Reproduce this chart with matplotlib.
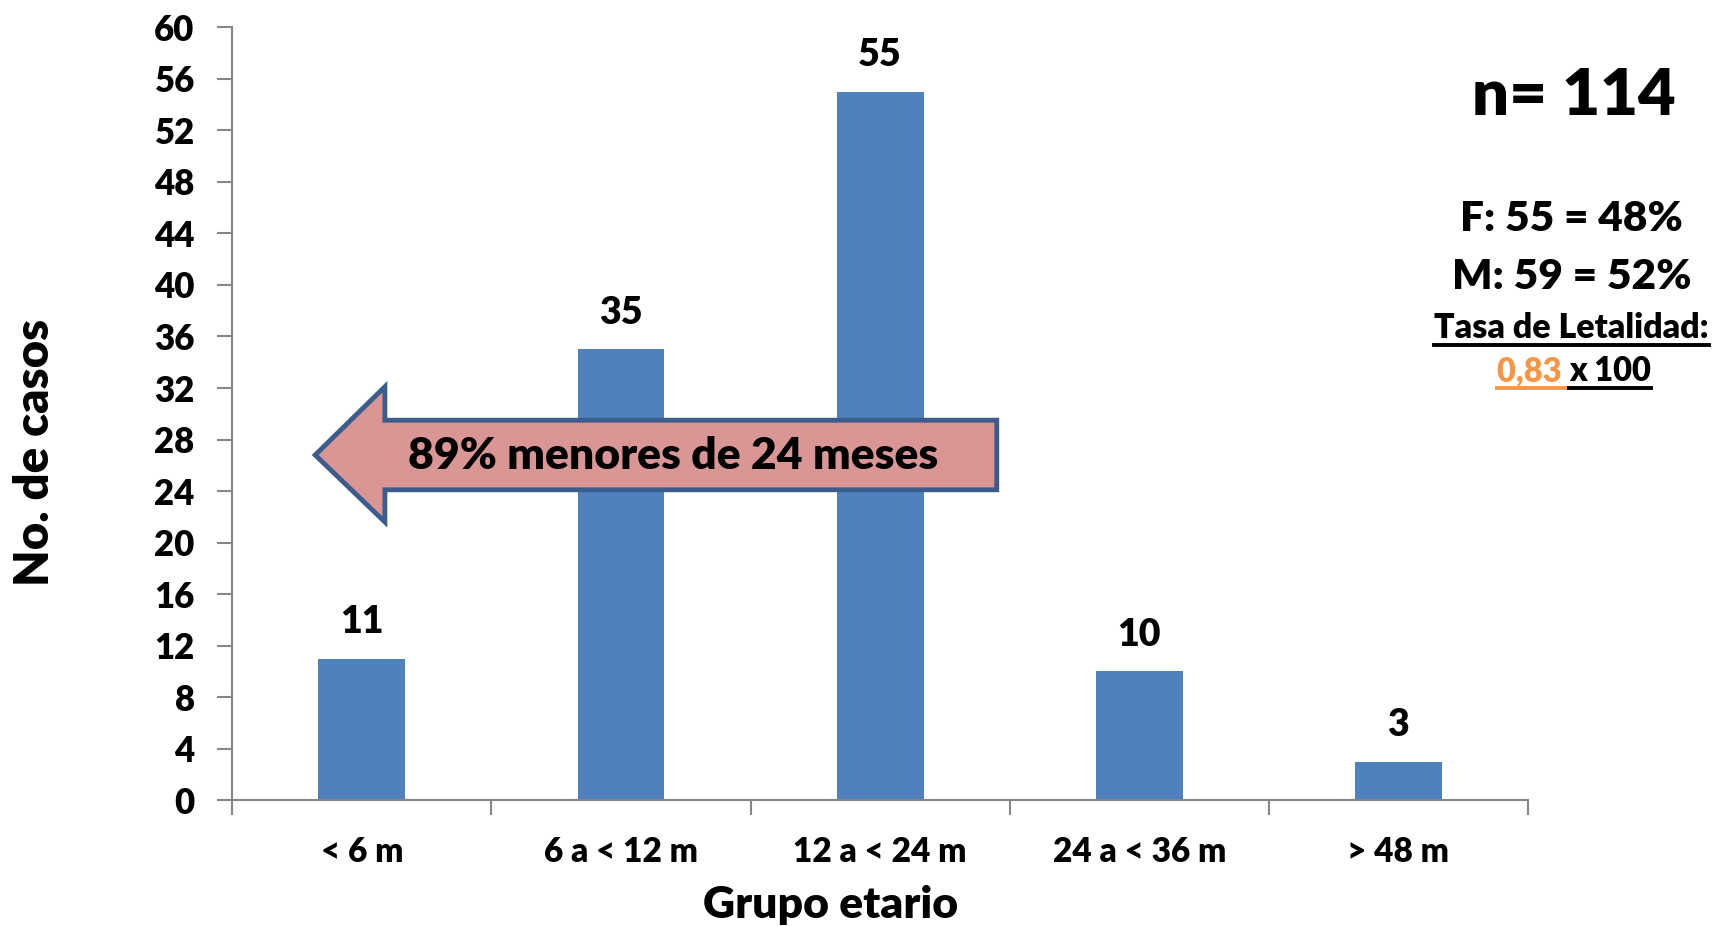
import matplotlib
matplotlib.use('Agg')
import matplotlib.pyplot as plt
from matplotlib.patches import Polygon
from matplotlib.lines import Line2D

plt.rcParams['font.family'] = ['Lato', 'DejaVu Sans']
W8 = 'heavy'

# datos
grupos = ['< 6 m', '6 a < 12 m', '12 a < 24 m', '24 a < 36 m', '> 48 m']
casos = [11, 35, 55, 10, 3]
y_ticks = list(range(0, 61, 4))

fig = plt.figure(figsize=(17.14, 9.26), dpi=100)
ax = fig.add_axes([0.1355, 0.1358, 0.756, 0.8347])

x = list(range(len(grupos)))
ax.bar(x, casos, width=0.335, color='#4F81BD', zorder=2)
for xi, v in zip(x, casos):
    ax.text(xi, v + 1.5, str(v), ha='center', va='bottom', fontsize=27, fontweight=W8)

ax.set_xlim(-0.5, len(grupos) - 0.5)
ax.set_ylim(0, 60)
ax.set_yticks(y_ticks)
ax.set_xticks(x)
ax.set_xticklabels(grupos)
ax.set_xticks([i - 0.5 for i in range(len(grupos) + 1)], minor=True)
ax.tick_params(axis='x', which='major', length=0, labelsize=24, pad=26)
ax.tick_params(axis='x', which='minor', length=11, width=1.5, color='#868686', direction='out')
ax.tick_params(axis='y', length=11, width=1.5, color='#868686', direction='out', labelsize=25, pad=16)
for lab in ax.get_xticklabels() + ax.get_yticklabels():
    lab.set_fontweight(W8)

for s in ['top', 'right']:
    ax.spines[s].set_visible(False)
for s in ['left', 'bottom']:
    ax.spines[s].set_color('#868686')
    ax.spines[s].set_linewidth(1.5)

ax.set_xlabel('Grupo etario', fontsize=32, fontweight=W8, va='center')
ax.set_ylabel('No. de casos', fontsize=34, fontweight=W8, va='center', ha='center')
ax.xaxis.set_label_coords(0.462, -0.136)
ax.yaxis.set_label_coords(-0.152, 0.45)

# flecha
arrow_pts = [(-0.18, 26.8), (0.089, 32.1), (0.089, 29.5), (2.45, 29.5),
             (2.45, 24.1), (0.089, 24.1), (0.089, 21.6)]
ax.add_patch(Polygon(arrow_pts, closed=True, facecolor='#D99694', edgecolor='#3C5D8C',
                     linewidth=3.5, zorder=3, clip_on=False))
ax.text(1.20, 26.7, '89% menores de 24 meses', ha='center', va='center',
        fontsize=32, fontweight=W8, zorder=4)

# textos a la derecha
fig.text(0.9185, 0.896, 'n= 114', ha='center', va='center', fontsize=47, fontweight=W8)
fig.text(0.917, 0.763, 'F: 55 = 48%', ha='center', va='center', fontsize=30.5, fontweight=W8)
fig.text(0.917, 0.701, 'M: 59 = 52%', ha='center', va='center', fontsize=30.5, fontweight=W8)
t1 = fig.text(0.9168, 0.646, 'Tasa de Letalidad:', ha='center', va='center', fontsize=24.4, fontweight=W8)
t2 = fig.text(0.9155, 0.599, '0,83 ', ha='right', va='center', fontsize=23.5, fontweight=W8, color='#F79646')
t3 = fig.text(0.9155, 0.599, 'x 100', ha='left', va='center', fontsize=23.5, fontweight=W8)

fig.canvas.draw()
r = fig.canvas.get_renderer()
W, H = fig.bbox.width, fig.bbox.height
for t, c in [(t1, 'black'), (t2, '#F79646'), (t3, 'black')]:
    bb = t.get_window_extent(r)
    yl = (bb.y0 - 1) / H
    fig.add_artist(Line2D([bb.x0 / W, bb.x1 / W], [yl, yl], color=c, linewidth=2.8))

fig.savefig('out.png', dpi=100)
